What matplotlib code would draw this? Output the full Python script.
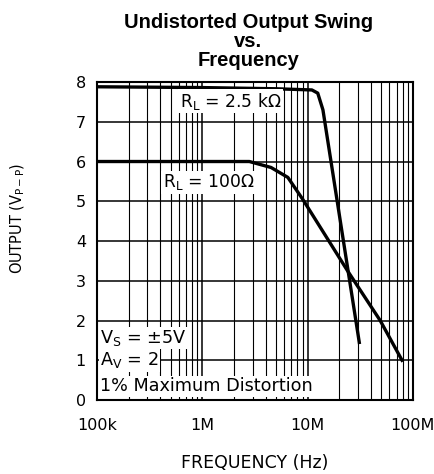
import matplotlib.pyplot as plt
from matplotlib.ticker import FixedLocator, NullFormatter
import numpy as np

# curve data (frequency in Hz, output in Vp-p)
f_2k5 = [1e5, 1e6, 5e6, 1.1e7, 1.25e7, 1.4e7, 3.1e7]
v_2k5 = [7.88, 7.86, 7.83, 7.8, 7.72, 7.3, 1.45]

f_100 = [1e5, 1e6, 2.8e6, 4.5e6, 6.5e6, 9e6, 2.4e7, 4.9e7, 7.9e7]
v_100 = [6.0, 6.0, 6.0, 5.85, 5.6, 5.05, 3.25, 2.0, 1.0]

xticks = [1e5, 1e6, 1e7, 1e8]
xticklabels = ['100k', '1M', '10M', '100M']
yticks = [0, 1, 2, 3, 4, 5, 6, 7, 8]

fig = plt.figure(figsize=(4.35, 4.74), dpi=100)
ax = fig.add_axes([0.223, 0.156, 0.726, 0.671])

ax.plot(f_2k5, v_2k5, color='black', lw=2.4, solid_joinstyle='round', zorder=4)
ax.plot(f_100, v_100, color='black', lw=2.4, solid_joinstyle='round', zorder=4)

ax.set_xscale('log')
ax.set_xlim(1e5, 1e8)
ax.set_ylim(0, 8)
ax.xaxis.set_major_locator(FixedLocator(xticks))
ax.set_xticklabels(xticklabels)
minors = [m * d for d in [1e5, 1e6, 1e7] for m in range(2, 10)]
ax.xaxis.set_minor_locator(FixedLocator(minors))
ax.xaxis.set_minor_formatter(NullFormatter())
ax.set_yticks(yticks)

ax.grid(True, which='major', color='black', lw=1.1)
ax.grid(True, which='minor', axis='x', color='black', lw=0.8)
ax.tick_params(which='both', length=0, labelsize=11.5)
ax.tick_params(axis='x', pad=13)
ax.tick_params(axis='y', pad=8)
for s in ax.spines.values():
    s.set_linewidth(1.5)

box = dict(facecolor='white', edgecolor='none', pad=1.0)
ax.text(6.1e5, 7.52, r'R$_\mathregular{L}$ = 2.5 k$\Omega$', fontsize=12.3,
        va='center', ha='left', bbox=box, zorder=5)
ax.text(4.2e5, 5.48, r'R$_\mathregular{L}$ = 100$\Omega$', fontsize=12.3,
        va='center', ha='left', bbox=box, zorder=5)
ax.text(1.07e5, 1.56, r'V$_\mathregular{S}$ = $\pm$5V', fontsize=12.7,
        va='center', ha='left', bbox=box, zorder=5)
ax.text(1.07e5, 1.0, r'A$_\mathregular{V}$ = 2', fontsize=12.7,
        va='center', ha='left', bbox=box, zorder=5)
ax.text(1.07e5, 0.35, '1% Maximum Distortion', fontsize=12.7,
        va='center', ha='left', bbox=box, zorder=5)

ax.set_xlabel('FREQUENCY (Hz)', fontsize=12.5)
ax.xaxis.set_label_coords(0.5, -0.17)
ax.set_ylabel(r'OUTPUT (V$_\mathregular{P-P}$)', fontsize=10.5)
ax.yaxis.set_label_coords(-0.222, 0.57)

fig.text(0.571, 0.852, 'Undistorted Output Swing\nvs.\nFrequency',
         ha='center', va='bottom', fontsize=14.5, fontweight='bold',
         family='Liberation Sans', linespacing=1.02)

fig.savefig('out.png', dpi=100)
